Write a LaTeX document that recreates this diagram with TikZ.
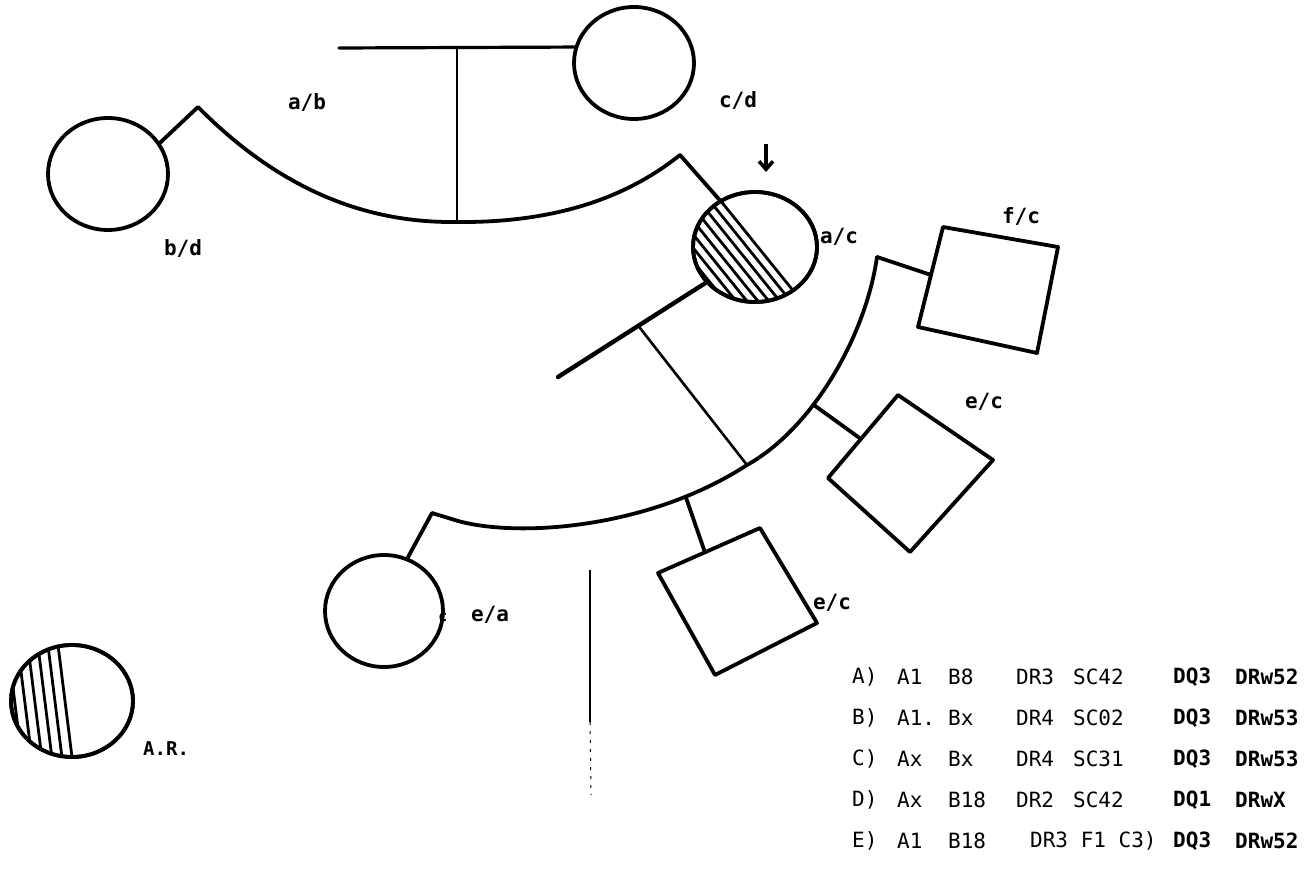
\documentclass[tikz,border=0pt]{standalone}
\usepackage{fontspec}
\newfontfamily\labfont{DejaVu Sans Mono}
\usetikzlibrary{calc,arrows.meta,shapes.geometric}
\begin{document}
\begin{tikzpicture}[x=1pt,y=-1pt,
  ln/.style={line width=3.8pt, line join=round, line cap=round},
  thinln/.style={line width=2.6pt, line cap=round},
  person/.style={ellipse, draw, ln, inner sep=0pt},
  lab/.style={font=\labfont\bfseries\fontsize{21}{24}\selectfont, inner sep=0pt},
  tab/.style={font=\labfont\fontsize{21}{22}\selectfont, inner sep=0pt, anchor=west},
  tabb/.style={tab, font=\labfont\bfseries\fontsize{21}{22}\selectfont},
  hatch/.style={line width=2.8pt}]
\useasboundingbox (0,0) rectangle (1311,874);

% ---- top generation ----
\node[person, minimum width=120, minimum height=112] (cd) at (634,63) {};
\node[person, minimum width=120, minimum height=112] (bd) at (108,174) {};
\coordinate (tl) at (339,48);
\coordinate (tm) at (457,48);
\coordinate (pk1) at (198,107);
\coordinate (abot) at (457,222);
\coordinate (pk2) at (680,155);
\draw[line width=3.2pt, line cap=round] (tl) -- (cd.165);
\draw[thinln] (tm) -- (abot);
\draw[ln] (bd.31) -- (pk1) .. controls (290,200) and (380,223) .. (abot)
          .. controls (560,223) and (630,195) .. (pk2);

\node[lab] (lab-ab) at (307,102) {a/b};
\node[lab] (lab-cd) at (738,101) {c/d};
\node[lab] (lab-bd) at (183,248) {b/d};

% ---- proband ----
\node[person, minimum width=124, minimum height=110] (pro) at (755,247) {};
\begin{scope}
  \clip (755,247) ellipse [x radius=62, y radius=55];
  \foreach \k in {0,...,7}{
    \draw[hatch] ({720-6.62*\k-75},{200+5.33*\k-93}) -- ({720-6.62*\k+75},{200+5.33*\k+93});
  }
\end{scope}
\node[person, minimum width=124, minimum height=110] at (755,247) {};
\draw[ln] (pk2) -- (pro.127);
\coordinate (arrS) at (766,144);
\coordinate (arrE) at (766,172);
\draw[line width=3.8pt, -{Straight Barb[length=8pt,width=14pt,line width=3.6pt]}] (arrS) -- (arrE);
\node[lab] (lab-ac) at (839,237) {a/c};

% spouse line of proband
\coordinate (ex) at (558,377);
\draw[line width=4.4pt, line cap=round] (pro.216) -- (ex);
\coordinate (br) at (640,328);

% ---- sibship arc ----
\node[person, minimum width=118, minimum height=112] (ea) at (384,611) {};
\coordinate (pk3) at (432,513);
\coordinate (aj) at (747,465);
\coordinate (pk4) at (877,257);
\draw[ln] (ea.66) -- (pk3) -- (458,521) .. controls (520,538) and (650,528) .. node[coordinate,pos=0.8] (a1) {} (aj)
          .. controls (810,430) and (865,340) .. node[coordinate,pos=0.38] (a2) {} (pk4);
\draw[thinln] (br) -- (aj);

% squares
\coordinate (fc1) at (943,227); \coordinate (fc2) at (1058,247);
\coordinate (fc3) at (1037,353); \coordinate (fc4) at (918,327);
\draw[ln] (fc1) -- (fc2) -- (fc3) -- (fc4) -- cycle;
\coordinate (ec1) at (898,395); \coordinate (ec2) at (993,460);
\coordinate (ec3) at (910,552); \coordinate (ec4) at (828,478);
\draw[ln] (ec1) -- (ec2) -- (ec3) -- (ec4) -- cycle;
\coordinate (ls1) at (658,573); \coordinate (ls2) at (760,528);
\coordinate (ls3) at (817,623); \coordinate (ls4) at (715,675);
\draw[ln] (ls1) -- (ls2) -- (ls3) -- (ls4) -- cycle;

\draw[ln] (pk4) -- ($(fc1)!0.48!(fc4)$);
\draw[ln] (a2) -- ($(ec4)!0.47!(ec1)$);
\draw[ln] (a1) -- ($(ls1)!0.46!(ls2)$);

\node[lab] (lab-fc) at (1021,216) {f/c};
\node[lab] (lab-ec1) at (984,402) {e/c};
\node[lab] (lab-ec2) at (832,603) {e/c};
\node[lab] (lab-ea) at (490,615) {e/a};
\node[font=\labfont\bfseries\fontsize{15}{15}\selectfont, inner sep=0pt] (mk) at (443,617) {c};

% faint vertical line
\coordinate (v1) at (590,570); \coordinate (v2) at (590,722); \coordinate (v3) at (591,795);
\draw[line width=1.6pt] (v1) -- (v2);
\draw[line width=1pt, dash pattern=on 3pt off 6pt] (v2) -- (v3);

% ---- A.R. ----
\node[person, minimum width=122, minimum height=112] (ar) at (72,701) {};
\begin{scope}
  \clip (72,701) ellipse [x radius=61, y radius=56];
  \foreach \k in {0,...,5}{
    \draw[hatch] ({58-9.92*\k-15},{645+1.24*\k-120}) -- ({58-9.92*\k+30},{645+1.24*\k+240});
  }
\end{scope}
\node[person, minimum width=122, minimum height=112] at (72,701) {};
\node[font=\labfont\bfseries\fontsize{19}{20}\selectfont, inner sep=0pt, anchor=west] (lab-ar) at (143,749) {A.R.};

% ---- table ----
\foreach \y/\a/\b/\c/\d/\e/\f/\g in {
  677/A)/A1/B8/DR3/SC42/DQ3/DRw52,
  718/B)/A1./Bx/DR4/SC02/DQ3/DRw53,
  759/C)/Ax/Bx/DR4/SC31/DQ3/DRw53,
  800/D)/Ax/B18/DR2/SC42/DQ1/DRwX}{
  \node[tab] at (852,\y) {\a};
  \node[tab] at (897,\y) {\b};
  \node[tab] at (948,\y) {\c};
  \node[tab] at (1016,\y) {\d};
  \node[tab] at (1073,\y) {\e};
  \node[tabb] at (1173,\y) {\f};
  \node[tabb] at (1235,\y) {\g};
}
\node[tab] (e1) at (852,841) {E)};
\node[tab] (e2) at (897,841) {A1};
\node[tab] (e3) at (948,841) {B18};
\node[tab] (e4) at (1030,841) {DR3 F1 C3)};
\node[tabb] (e5) at (1173,841) {DQ3};
\node[tabb] (e6) at (1235,841) {DRw52};
\end{tikzpicture}
\end{document}
